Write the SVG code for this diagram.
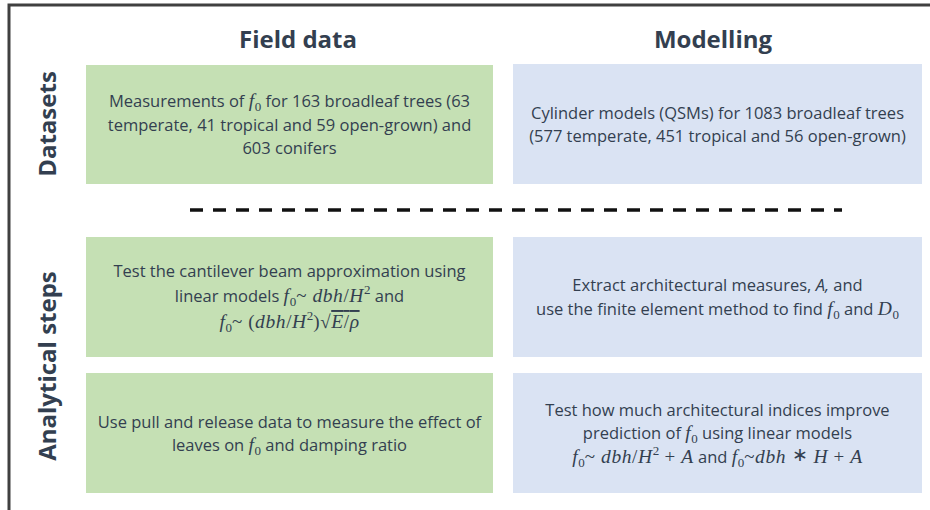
<svg xmlns="http://www.w3.org/2000/svg" width="930" height="510" viewBox="0 0 930 510">
<style>
.hdr{font-family:"Open Sans","Liberation Sans",sans-serif;font-weight:bold;font-size:24px;fill:#333f50;text-anchor:middle}
.t{font-family:"Open Sans","Liberation Sans",sans-serif;font-size:16.5px;fill:#333f50;text-anchor:middle}
.m{font-family:"Liberation Serif",serif;font-style:italic;font-size:19.5px;letter-spacing:0.6px}
.r{font-family:"Liberation Serif",serif;font-style:normal;font-size:19px;letter-spacing:0.6px}
.s{font-family:"Liberation Serif",serif;font-style:normal;font-size:13px}
.g{fill:#c5e0b4}
.b{fill:#dae3f3}
</style>
<rect x="0" y="0" width="930" height="510" fill="#ffffff"/>
<rect x="9" y="5" width="1000" height="600" fill="none" stroke="#404040" stroke-width="3"/>
<text class="hdr" x="298" y="48">Field data</text>
<text class="hdr" x="713" y="48">Modelling</text>
<text class="hdr" transform="translate(56,124) rotate(-90)">Datasets</text>
<text class="hdr" transform="translate(56,366) rotate(-90)">Analytical steps</text>
<g id="connectors">
<line x1="190" y1="210" x2="842" y2="210" stroke="#111111" stroke-width="3.5" stroke-dasharray="13 10"/>
</g>
<g id="field-datasets">
<rect class="g" x="86" y="65" width="407" height="119"/>
<text class="t" x="289.5" y="107">Measurements of <tspan class="m">f</tspan><tspan class="s" dy="4">0</tspan><tspan dy="-4"> for 163 broadleaf trees (63</tspan></text>
<text class="t" x="289.5" y="131">temperate, 41 tropical and 59 open-grown) and</text>
<text class="t" x="289.5" y="154">603 conifers</text>
</g>
<g id="model-datasets">
<rect class="b" x="513" y="64" width="409" height="120"/>
<text class="t" x="717.5" y="119">Cylinder models (QSMs) for 1083 broadleaf trees</text>
<text class="t" x="717.5" y="142">(577 temperate, 451 tropical and 56 open-grown)</text>
</g>
<g id="field-beam">
<rect class="g" x="86" y="237" width="407" height="120"/>
<text class="t" x="289.5" y="277">Test the cantilever beam approximation using</text>
<text class="t" x="289.5" y="302">linear models  <tspan class="m">f</tspan><tspan class="s" dy="4">0</tspan><tspan class="r" dy="-4">~ </tspan><tspan class="m">dbh</tspan><tspan class="r">/</tspan><tspan class="m">H</tspan><tspan class="s" dy="-8">2</tspan><tspan dy="8"> and</tspan></text>
<text class="t" x="289.5" y="328"><tspan class="m">f</tspan><tspan class="s" dy="4">0</tspan><tspan class="r" dy="-4">~ (</tspan><tspan class="m">dbh</tspan><tspan class="r">/</tspan><tspan class="m">H</tspan><tspan class="s" dy="-8">2</tspan><tspan class="r" dy="8">)√</tspan><tspan class="m" text-decoration="overline">E</tspan><tspan class="r" text-decoration="overline">/</tspan><tspan class="m" text-decoration="overline">ρ</tspan></text>
</g>
<g id="model-fem">
<rect class="b" x="513" y="237" width="409" height="120"/>
<text class="t" x="717.5" y="291">Extract architectural measures, <tspan font-style="italic">A,</tspan> and</text>
<text class="t" x="717.5" y="315">use the finite element method to find <tspan class="m">f</tspan><tspan class="s" dy="4">0</tspan><tspan dy="-4"> and </tspan><tspan class="m">D</tspan><tspan class="s" dy="4">0</tspan></text>
</g>
<g id="field-pull">
<rect class="g" x="86" y="373" width="407" height="120"/>
<text class="t" x="289.5" y="428">Use pull and release data to measure the effect of</text>
<text class="t" x="289.5" y="451">leaves on <tspan class="m">f</tspan><tspan class="s" dy="4">0</tspan><tspan dy="-4"> and damping ratio</tspan></text>
</g>
<g id="model-arch">
<rect class="b" x="513" y="373" width="409" height="120"/>
<text class="t" x="717.5" y="416">Test how much architectural indices improve</text>
<text class="t" x="717.5" y="439">prediction of <tspan class="m">f</tspan><tspan class="s" dy="4">0</tspan><tspan dy="-4"> using linear models</tspan></text>
<text class="t" x="717.5" y="463"><tspan class="m">f</tspan><tspan class="s" dy="4">0</tspan><tspan class="r" dy="-4">~ </tspan><tspan class="m">dbh</tspan><tspan class="r">/</tspan><tspan class="m">H</tspan><tspan class="s" dy="-8">2</tspan><tspan class="r" dy="8"> + </tspan><tspan class="m">A</tspan><tspan> and </tspan><tspan class="m">f</tspan><tspan class="s" dy="4">0</tspan><tspan class="r" dy="-4">~</tspan><tspan class="m">dbh</tspan><tspan class="r" font-size="14px" dy="-2"> ∗ </tspan><tspan class="m" dy="2">H</tspan><tspan class="r"> + </tspan><tspan class="m">A</tspan></text>
</g>
</svg>
